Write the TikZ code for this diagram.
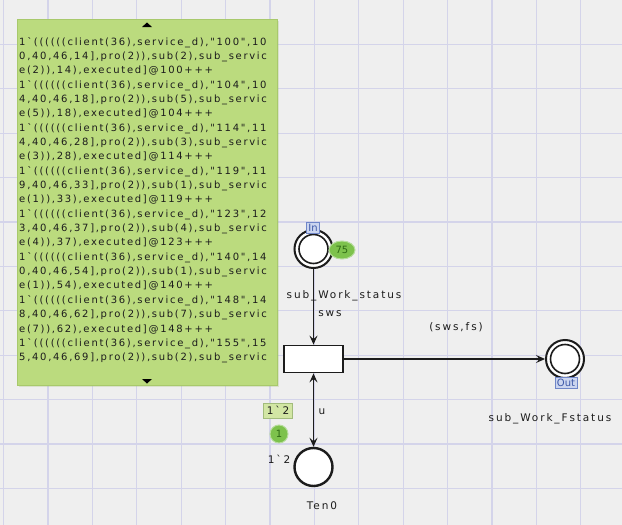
\documentclass[tikz,border=0pt]{standalone}
\usepackage{fontspec}
\setmainfont{DejaVu Sans}
\newfontfamily\tipfont{DejaVu Sans}[Ligatures=TeXOff,LetterSpace=17]
\newfontfamily\labfont{DejaVu Sans}[Ligatures=TeXOff,LetterSpace=18]
\usetikzlibrary{arrows.meta,shapes.geometric}
\definecolor{bgc}{HTML}{EFEFEF}
\definecolor{gridc}{HTML}{D4D4EA}
\definecolor{tipc}{HTML}{BBDB7E}
\definecolor{tipb}{HTML}{A8C96C}
\definecolor{tokc}{HTML}{7DC24C}
\definecolor{toktxt}{HTML}{2F6A14}
\definecolor{mboxc}{HTML}{D2E6A4}
\definecolor{mboxb}{HTML}{A2BC7C}
\definecolor{tagc}{HTML}{CBD5EF}
\definecolor{tagb}{HTML}{6F86C8}
\definecolor{tagt}{HTML}{3D58A8}
\definecolor{inkc}{HTML}{1C1C1C}
\tikzset{
  placeo/.style={circle,draw=inkc,fill=white,line width=2pt,minimum size=38pt,inner sep=0pt},
  transbox/.style={rectangle,draw=inkc,fill=white,line width=1.8pt,minimum width=59pt,minimum height=27pt,inner sep=0pt},
  arcline/.style={draw=inkc,line width=1.5pt,-{Stealth[length=9pt,width=8pt,inset=3.5pt]}},
  biarc/.style={draw=inkc,line width=1.5pt,{Stealth[length=9pt,width=8pt,inset=3.5pt]}-{Stealth[length=9pt,width=8pt,inset=3.5pt]}},
  lab/.style={font=\labfont\fontsize{10.5}{12}\selectfont,text=inkc,inner sep=0pt},
  tipline/.style={anchor=base west,inner sep=0pt,text=inkc,font=\tipfont\fontsize{10}{12}\selectfont},
  tag/.style={draw=tagb,fill=tagc,text=tagt,line width=0.8pt,font=\fontsize{10}{11}\selectfont,inner xsep=2pt,inner ysep=1pt,minimum height=11pt},
  tok/.style={ellipse,fill=tokc,text=toktxt,inner sep=0pt,font=\fontsize{10}{11}\selectfont}
}
\newcommand\tipln[2]{\node[tipline] (tl#1) at (19,{45+14.35*(#1-1)}) {#2};}
\begin{document}
\begin{tikzpicture}[x=1pt,y=-1pt]
\useasboundingbox (0,0) rectangle (622,525);
\fill[bgc] (0,0) rectangle (622,525);
% grid
\foreach \i in {0,...,13} {\draw[gridc,line width=1.2pt] ({3.5+44.4*\i},0) -- ({3.5+44.4*\i},525);}
\foreach \j in {1,...,11} {\draw[gridc,line width=1.2pt] (0,{44.4*\j}) -- (622,{44.4*\j});}
% tooltip
\fill[tipc!85!black,opacity=0.25] (19,21) rectangle (279,387);
\filldraw[fill=tipc,draw=tipb,line width=0.8pt] (17,19) rectangle (277,385);
\fill[black] (142,27) -- (152,27) -- (147,22.5) -- cycle;
\fill[black] (142,379) -- (152,379) -- (147,383.5) -- cycle;
\tipln{1}{1`((((((client(36),service\_d),"100",10}
\tipln{2}{0,40,46,14],pro(2)),sub(2),sub\_servic}
\tipln{3}{e(2)),14),executed]@100+++}
\tipln{4}{1`((((((client(36),service\_d),"104",10}
\tipln{5}{4,40,46,18],pro(2)),sub(5),sub\_servic}
\tipln{6}{e(5)),18),executed]@104+++}
\tipln{7}{1`((((((client(36),service\_d),"114",11}
\tipln{8}{4,40,46,28],pro(2)),sub(3),sub\_servic}
\tipln{9}{e(3)),28),executed]@114+++}
\tipln{10}{1`((((((client(36),service\_d),"119",11}
\tipln{11}{9,40,46,33],pro(2)),sub(1),sub\_servic}
\tipln{12}{e(1)),33),executed]@119+++}
\tipln{13}{1`((((((client(36),service\_d),"123",12}
\tipln{14}{3,40,46,37],pro(2)),sub(4),sub\_servic}
\tipln{15}{e(4)),37),executed]@123+++}
\tipln{16}{1`((((((client(36),service\_d),"140",14}
\tipln{17}{0,40,46,54],pro(2)),sub(1),sub\_servic}
\tipln{18}{e(1)),54),executed]@140+++}
\tipln{19}{1`((((((client(36),service\_d),"148",14}
\tipln{20}{8,40,46,62],pro(2)),sub(7),sub\_servic}
\tipln{21}{e(7)),62),executed]@148+++}
\tipln{22}{1`((((((client(36),service\_d),"155",15}
\tipln{23}{5,40,46,69],pro(2)),sub(2),sub\_servic}
% places and transition
\node[placeo] (sws) at (313.5,249) {};
\draw[inkc,line width=1.6pt] (sws.center) circle (14.5pt);
\node[transbox] (tr) at (313.5,359) {};
\node[placeo] (fst) at (565,359) {};
\draw[inkc,line width=1.6pt] (fst.center) circle (14.5pt);
\node[placeo,line width=2.4pt] (ten) at (313.5,467) {};
% arcs
\draw[arcline] (sws) -- (tr);
\draw[arcline] (tr) -- (fst);
\draw[biarc] (tr) -- (ten);
% tags
\node[tag] (intag) at (313,227.5) {In};
\node[tag] (outtag) at (566,382.5) {Out};
% tokens
\node[tok,minimum width=26pt,minimum height=18pt,draw=tokc!55!white,line width=1pt] (tok75) at (342,250) {75};
\node[draw=mboxb,fill=mboxc,line width=0.8pt,inner sep=1.5pt,minimum width=29pt,minimum height=15pt,font=\labfont\fontsize{10.5}{12}\selectfont,text=inkc] (mark) at (278,410.5) {1`2};
\node[tok,minimum width=18pt,minimum height=18pt,draw=tokc!55!white,line width=1pt] (tok1) at (279,434) {1};
% labels
\node[lab] (lsws) at (344,296) {sub\_Work\_status};
\node[lab] (lv) at (330,314) {sws};
\node[lab] (lp) at (456,327) {(sws,fs)};
\node[lab] (lf) at (550,419) {sub\_Work\_Fstatus};
\node[lab] (lu) at (322,412) {u};
\node[lab] (li) at (279,459) {1`2};
\node[lab] (lt) at (322,506) {Ten0};
\end{tikzpicture}
\end{document}
